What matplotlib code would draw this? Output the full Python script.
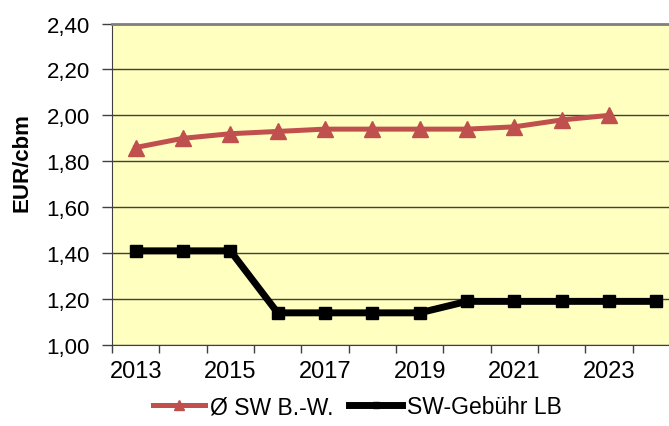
import matplotlib.pyplot as plt
import numpy as np
from matplotlib.ticker import FuncFormatter

plt.rcParams['font.family'] = ['Liberation Sans', 'DejaVu Sans']

# Daten
years_bw = [2013, 2014, 2015, 2016, 2017, 2018, 2019, 2020, 2021, 2022, 2023]
sw_bw = [1.86, 1.90, 1.92, 1.93, 1.94, 1.94, 1.94, 1.94, 1.95, 1.98, 2.00]

years_lb = [2013, 2014, 2015, 2016, 2017, 2018, 2019, 2020, 2021, 2022, 2023, 2024]
sw_lb = [1.41, 1.41, 1.41, 1.14, 1.14, 1.14, 1.14, 1.19, 1.19, 1.19, 1.19, 1.19]

label_years = [2013, 2015, 2017, 2019, 2021, 2023]
y_ticks = [1.00, 1.20, 1.40, 1.60, 1.80, 2.00, 2.20, 2.40]

fig = plt.figure(figsize=(6.69, 4.27), dpi=100)
# plot area runs past the right edge, as in the original screenshot
ax = fig.add_axes([112 / 669, 81 / 427, 568 / 669, 321.5 / 427])
ax.set_facecolor("#FFFFC0")

ax.plot(years_bw, sw_bw, color="#C0504D", linewidth=3.6, marker="^",
        markersize=12, label="Ø SW B.-W.", zorder=3)
ax.plot(years_lb, sw_lb, color="black", linewidth=5, marker="s",
        markersize=8.5, label="SW-Gebühr LB", zorder=4)

ax.set_xlim(2012.5, 2024.5)
ax.set_ylim(1.0, 2.4)

# ticks between the categories, labels on every second year
ax.set_xticks(np.arange(2012.5, 2025, 1.0))
ax.set_xticklabels([])
ax.set_xticks(label_years, minor=True)
ax.set_xticklabels([str(y) for y in label_years], minor=True, fontsize=17)
ax.tick_params(axis="x", which="major", length=6, width=1, color="#404040", direction="out")
ax.tick_params(axis="x", which="minor", length=0, pad=11)

ax.set_yticks(y_ticks)
ax.yaxis.set_major_formatter(FuncFormatter(lambda v, p: f"{v:.2f}".replace(".", ",")))
ax.tick_params(axis="y", length=7, width=1, color="#404040", direction="out", labelsize=16, pad=9)

ax.grid(axis="y", color="#404040", linewidth=1)
ax.set_axisbelow(True)

ax.spines["right"].set_visible(False)
ax.spines["top"].set_color("#808080")
ax.spines["top"].set_linewidth(2)
ax.spines["left"].set_color("#404040")
ax.spines["bottom"].set_color("#404040")

ax.set_ylabel("EUR/cbm", fontsize=16, fontweight="bold")
ax.yaxis.set_label_coords(-0.14, 0.571)

fig.legend(loc="center", bbox_to_anchor=(357 / 669, 1 - 408 / 427), ncol=2,
           frameon=False, fontsize=16.5, handlelength=2.3, handletextpad=0.2,
           columnspacing=0.7, markerscale=0.55)

plt.savefig("out.png", dpi=100)
